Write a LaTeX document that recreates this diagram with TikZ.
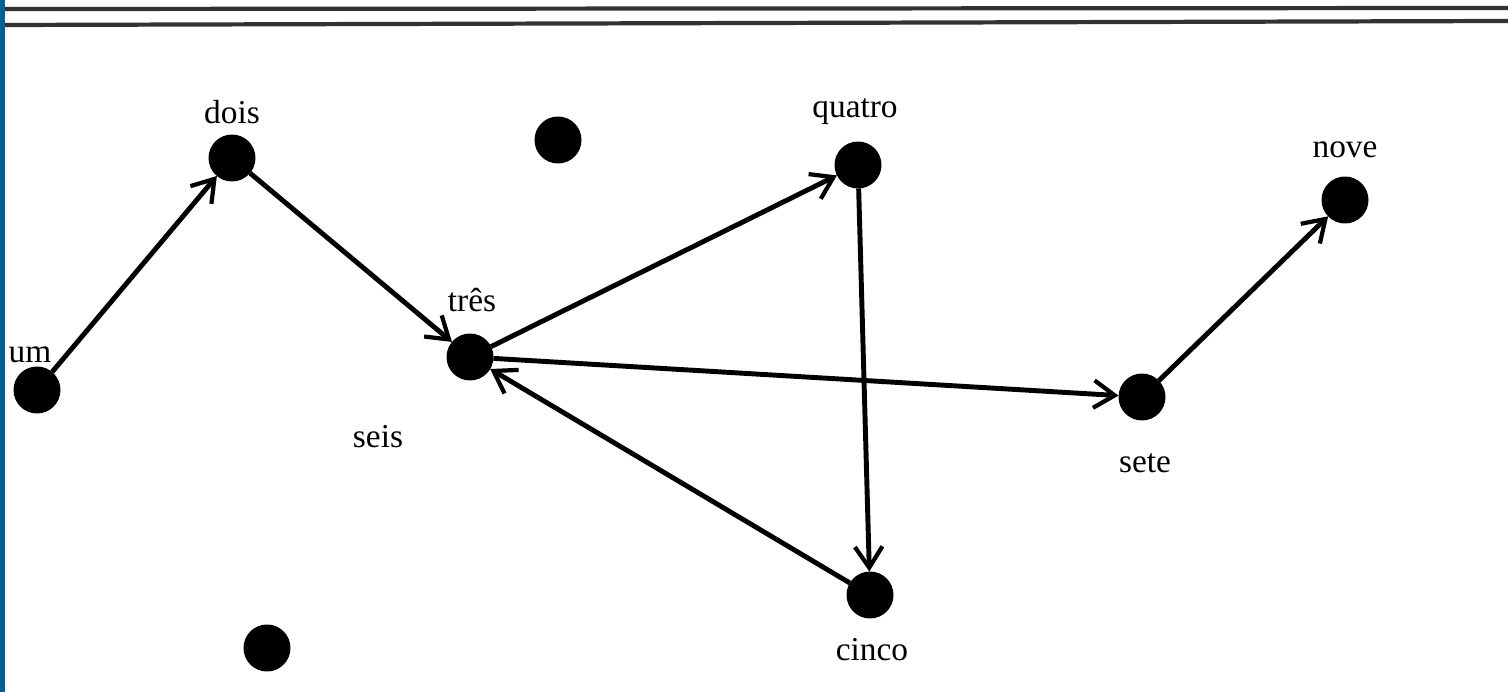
\documentclass[tikz,border=0pt]{standalone}
\usepackage{fontspec}
\setmainfont{Liberation Serif}
\usetikzlibrary{arrows.meta}
\definecolor{scanblue}{RGB}{0,96,150}
\definecolor{rule}{RGB}{50,50,50}
\tikzset{
  dot/.style={circle,fill=black,draw=none,minimum size=0.94cm,inner sep=0pt,outer sep=0pt},
  lbl/.style={font=\fontsize{19}{21}\selectfont,inner sep=0pt},
  edge/.style={line width=2.8pt,-{Straight Barb[length=0.42cm,width=0.55cm,line width=2.4pt]}},
}
\begin{document}
\begin{tikzpicture}[x=0.02cm,y=-0.02cm]
\useasboundingbox (0,0) rectangle (1508,692);
\fill[white] (0,0) rectangle (1508,692);
\fill[scanblue] (0,0) rectangle (5,692);
\draw[rule,line width=2.4pt] (5,9) -- (1508,8);
\draw[rule,line width=2.4pt] (5,25) -- (1508,21);
% dots
\node[dot] (um) at (37,390) {};
\node[dot] (dois) at (232,158) {};
\node[dot] (extra1) at (558,140) {};
\node[dot] (quatro) at (858,165) {};
\node[dot] (nove) at (1345,200) {};
\node[dot] (tres) at (470,357) {};
\node[dot] (sete) at (1142,397) {};
\node[dot] (cinco) at (870,595) {};
\node[dot] (extra2) at (267,648) {};
% labels
\node[lbl] (lum) at (30,355) {um};
\node[lbl] (ldois) at (232,112) {dois};
\node[lbl] (lquatro) at (855,112) {quatro};
\node[lbl] (lnove) at (1345,150) {nove};
\node[lbl] (ltres) at (472,300) {três};
\node[lbl] (lseis) at (378,437) {seis};
\node[lbl] (lsete) at (1145,463) {sete};
\node[lbl] (lcinco) at (872,650) {cinco};
% edges
\draw[edge] (um) -- (dois);
\draw[edge] (dois) -- (tres);
\draw[edge] (tres) -- (quatro);
\draw[edge] (quatro) -- (cinco);
\draw[edge] (cinco) -- (tres);
\draw[edge] (tres) -- (sete);
\draw[edge] (sete) -- (nove);
\end{tikzpicture}
\end{document}
